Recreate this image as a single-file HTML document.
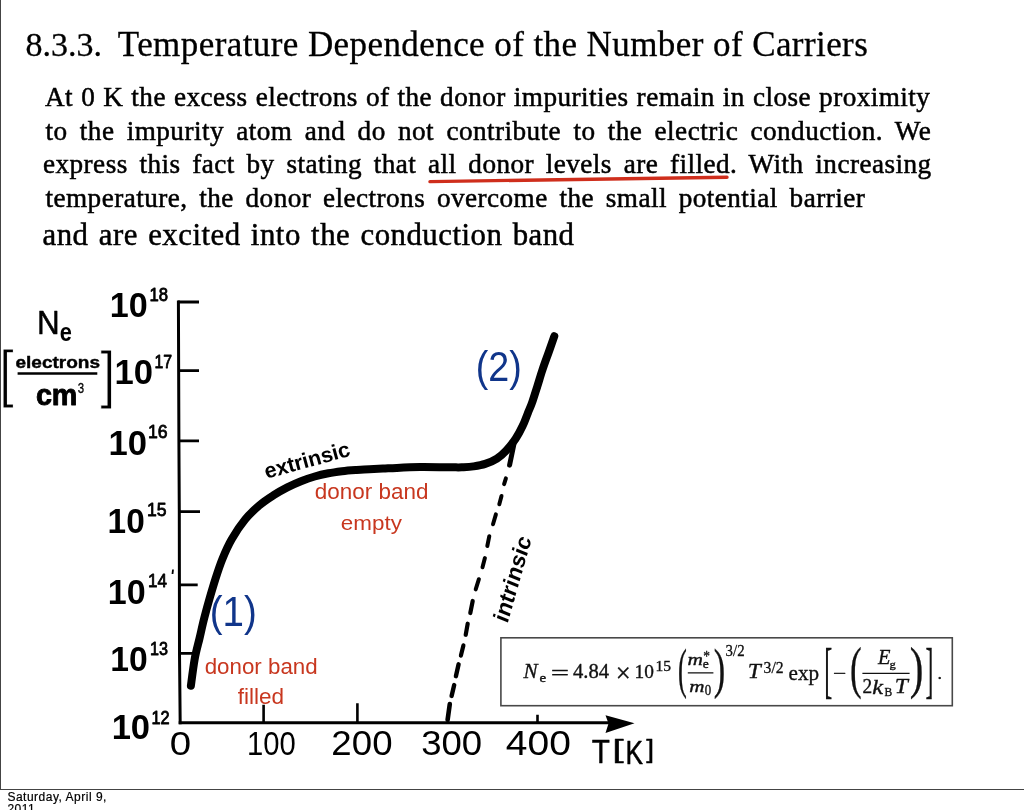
<!DOCTYPE html>
<html lang="en"><head><meta charset="utf-8"><title>8.3.3. Temperature Dependence of the Number of Carriers</title>
<style>
html,body{margin:0;padding:0;background:#fff;}
body{width:1024px;height:810px;position:relative;overflow:hidden;font-family:"Liberation Serif",serif;color:#000;}
.frame{position:absolute;left:0;top:0;width:1024px;height:789px;border-left:1px solid #444;border-bottom:1px solid #444;box-sizing:content-box;}
.g{position:absolute;left:0;top:0;}
.ln{position:absolute;white-space:pre;line-height:40px;height:40px;margin:0;-webkit-text-stroke:0.5px #000;}
h1.ln{font-weight:normal;}
.foot{position:absolute;left:7.4px;top:791.4px;font:12px/12px "Liberation Sans",sans-serif;width:115px;letter-spacing:0.5px;-webkit-text-stroke:0.2px #000;}
</style></head><body>
<div class="frame"></div>
<h1 class="ln" style="left:0;top:25px;font-size:34px;width:900px;-webkit-text-stroke:0.3px #000"><span style="position:absolute;left:25.4px;top:0">8.3.3.</span> <span style="position:absolute;left:117.8px;top:0;font-size:35px;letter-spacing:0.42px">Temperature Dependence of the Number of Carriers</span></h1>
<p class="ln" style="left:45px;top:76.6px;font-size:27.2px;letter-spacing:0.45px;word-spacing:0.8px">At 0 K the excess electrons of the donor impurities remain in close proximity</p>
<p class="ln" style="left:45.5px;top:110.5px;font-size:27.2px;letter-spacing:0.45px;word-spacing:5.05px">to the impurity atom and do not contribute to the electric conduction. We</p>
<p class="ln" style="left:43px;top:143.6px;font-size:27.2px;letter-spacing:0.45px;word-spacing:4.5px">express this fact by stating that all donor levels are filled. With increasing</p>
<p class="ln" style="left:45.5px;top:178px;font-size:27.2px;letter-spacing:0.45px;word-spacing:4.5px">temperature, the donor electrons overcome the small potential barrier</p>
<p class="ln" style="left:42.5px;top:214.6px;font-size:30.8px;letter-spacing:0.5px;word-spacing:2.1px">and are excited into the conduction band</p>
<svg class="g" width="1024" height="810" viewBox="0 0 1024 810">
<rect x="500.9" y="637.8" width="451.4" height="67.9" fill="none" stroke="#484848" stroke-width="1.6"/>
<g fill="none" stroke="#000" stroke-linecap="butt">
<path d="M178.4 300.6L178.9 440L179.3 512L179.5 654L180.2 724.2" stroke-width="3"/>
<path d="M178 302H199M178 370.6H199M178 440.9H199M179 511.7H200M179 584.9H197.7M180 653.4H196" stroke-width="2.8"/>
<path d="M178.7 722.8H610" stroke-width="3"/>
<path d="M263.6 704.8V722M357.4 703.2V722M537.5 714.8V722" stroke-width="2.6"/>
<path d="M173 569.5l-.5 4.5" stroke-width="1.8"/>
<path d="M190.9 685.7C191.5 681.3 193.2 667.5 194.6 659.5C196.0 651.5 198.0 644.9 199.6 638.0C201.2 631.1 202.5 624.8 204.2 618.2C205.9 611.6 207.7 605.0 209.6 598.4C211.5 591.8 213.4 585.3 215.5 578.7C217.6 572.1 219.7 565.5 222.4 558.9C225.1 552.3 227.9 545.8 231.7 539.2C235.5 532.6 240.5 525.1 245.1 519.5C249.7 513.9 254.7 509.4 259.5 505.3C264.3 501.2 269.1 498.2 273.7 495.2C278.3 492.2 282.8 489.7 287.3 487.4C291.9 485.1 296.4 483.0 301.0 481.2C305.6 479.4 310.1 477.8 314.7 476.5C319.3 475.2 323.8 474.2 328.4 473.3C332.9 472.4 337.4 471.8 342.0 471.2C346.6 470.6 351.1 470.3 355.7 470.0C360.3 469.7 364.8 469.4 369.4 469.2C373.9 469.0 378.4 468.8 383.0 468.6C387.6 468.4 390.5 468.1 396.7 467.9C402.9 467.6 411.1 467.2 420.0 467.1C428.9 467.0 443.1 467.3 450.0 467.3C456.9 467.3 457.8 467.5 461.7 467.3C465.6 467.1 469.5 467.0 473.4 466.4C477.3 465.8 481.3 465.2 485.2 463.9C489.1 462.6 493.4 460.9 496.9 458.6C500.4 456.4 503.2 453.7 506.3 450.4C509.4 447.1 512.9 442.8 515.6 438.7C518.3 434.6 520.7 430.1 522.7 425.8C524.8 421.5 526.3 416.9 527.9 412.9C529.5 408.9 530.8 406.4 532.3 402.0C533.8 397.6 535.5 392.0 537.2 386.7C538.9 381.4 540.5 375.6 542.4 370.0C544.2 364.4 546.3 358.9 548.3 353.3C550.3 347.7 553.3 339.1 554.3 336.2" stroke-width="8" stroke-linecap="round" stroke-linejoin="round"/>
<g stroke-linecap="round"><path d="M513.8 444.7L509.6 465.1" stroke-width="5"/><path d="M505.9 478.3L504.1 484.1" stroke-width="4"/><path d="M501.5 496.0L499.3 504.3" stroke-width="4"/><path d="M495.9 514.4L493.0 524.3" stroke-width="4"/><path d="M489.3 536.2L487.3 546.0" stroke-width="4"/><path d="M484.9 558.1L482.5 567.3" stroke-width="4"/><path d="M478.9 579.2L475.7 589.4" stroke-width="4"/><path d="M472.7 601.0L470.3 613.0" stroke-width="4.2"/><path d="M467.7 623.7L465.7 634.8" stroke-width="4.2"/><path d="M463.4 645.4L460.9 655.6" stroke-width="4.2"/><path d="M458.6 664.3L455.9 676.2" stroke-width="4.4"/><path d="M454.2 685.1L451.6 695.9" stroke-width="4.4"/><path d="M449.8 704.0L447.6 719.9" stroke-width="4.6"/></g>
<path d="M17.6 373.6H97.3" stroke-width="2.5"/>
<path d="M687.8 672.8H713.4M862.4 673.4H909.6" stroke="#111" stroke-width="1.2"/>
</g>
<path d="M634.5 723.3L605.5 715.2L608.5 723.4L605.5 733Z" fill="#000"/>
<path d="M430 181.6C500 180.6 600 180 727 177.2" fill="none" stroke="#cf2e1c" stroke-width="3.4" stroke-linecap="round"/>
<text transform="translate(109.65 317.25) scale(0.974 1)" font-family='"Liberation Sans", sans-serif' font-size="35.07" font-weight="bold" font-style="normal" fill="#000">10</text>
<text transform="translate(149.53 301.12) scale(0.941 1)" font-family='"Liberation Sans", sans-serif' font-size="17.75" font-weight="normal" font-style="normal" fill="#000" stroke="#000" stroke-width="0.8" stroke-linejoin="round">18</text>
<text transform="translate(114.52 383.74) scale(0.968 1)" font-family='"Liberation Sans", sans-serif' font-size="35.77" font-weight="bold" font-style="normal" fill="#000">10</text>
<text transform="translate(154.49 367.60) scale(0.895 1)" font-family='"Liberation Sans", sans-serif' font-size="17.71" font-weight="normal" font-style="normal" fill="#000" stroke="#000" stroke-width="0.8" stroke-linejoin="round">17</text>
<text transform="translate(108.62 455.14) scale(0.968 1)" font-family='"Liberation Sans", sans-serif' font-size="35.77" font-weight="bold" font-style="normal" fill="#000">10</text>
<text transform="translate(147.96 438.31) scale(0.944 1)" font-family='"Liberation Sans", sans-serif' font-size="18.73" font-weight="normal" font-style="normal" fill="#000" stroke="#000" stroke-width="0.8" stroke-linejoin="round">16</text>
<text transform="translate(107.60 533.14) scale(0.933 1)" font-family='"Liberation Sans", sans-serif' font-size="35.77" font-weight="bold" font-style="normal" fill="#000">10</text>
<text transform="translate(147.07 516.32) scale(0.955 1)" font-family='"Liberation Sans", sans-serif' font-size="18.43" font-weight="normal" font-style="normal" fill="#000" stroke="#000" stroke-width="0.8" stroke-linejoin="round">15</text>
<text transform="translate(107.76 603.64) scale(0.952 1)" font-family='"Liberation Sans", sans-serif' font-size="35.77" font-weight="bold" font-style="normal" fill="#000">10</text>
<text transform="translate(148.01 586.50) scale(0.924 1)" font-family='"Liberation Sans", sans-serif' font-size="18.43" font-weight="normal" font-style="normal" fill="#000" stroke="#000" stroke-width="0.8" stroke-linejoin="round">14</text>
<text transform="translate(110.18 670.66) scale(0.979 1)" font-family='"Liberation Sans", sans-serif' font-size="34.37" font-weight="bold" font-style="normal" fill="#000">10</text>
<text transform="translate(150.07 654.81) scale(0.858 1)" font-family='"Liberation Sans", sans-serif' font-size="18.87" font-weight="normal" font-style="normal" fill="#000" stroke="#000" stroke-width="0.8" stroke-linejoin="round">13</text>
<text transform="translate(111.63 739.25) scale(1.001 1)" font-family='"Liberation Sans", sans-serif' font-size="34.51" font-weight="bold" font-style="normal" fill="#000">10</text>
<text transform="translate(151.45 723.50) scale(0.924 1)" font-family='"Liberation Sans", sans-serif' font-size="17.71" font-weight="normal" font-style="normal" fill="#000" stroke="#000" stroke-width="0.8" stroke-linejoin="round">12</text>
<text transform="translate(37.04 334.35) scale(0.930 1)" font-family='"Liberation Sans", sans-serif' font-size="33.77" font-weight="normal" font-style="normal" fill="#000" stroke="#000" stroke-width="0.5" stroke-linejoin="round">N</text>
<text transform="translate(59.75 340.54) scale(0.850 1)" font-family='"Liberation Sans", sans-serif' font-size="25.64" font-weight="bold" font-style="normal" fill="#000">e</text>
<text transform="translate(15.43 367.53) scale(1.127 1)" font-family='"Liberation Sans", sans-serif' font-size="16.89" font-weight="bold" font-style="normal" fill="#000" stroke="#000" stroke-width="0.4" stroke-linejoin="round">electrons</text>
<text transform="translate(35.89 404.86) scale(0.982 1)" font-family='"Liberation Sans", sans-serif' font-size="29.27" font-weight="bold" font-style="normal" fill="#000" stroke="#000" stroke-width="0.9" stroke-linejoin="round">cm</text>
<text transform="translate(77.71 393.01) scale(0.796 1)" font-family='"Liberation Sans", sans-serif' font-size="14.37" font-weight="normal" font-style="normal" fill="#000" stroke="#000" stroke-width="0.3" stroke-linejoin="round">3</text>
<text transform="translate(-0.72 395.46) scale(0.842 1)" font-family='"Liberation Sans", sans-serif' font-size="62.34" font-weight="normal" font-style="normal" fill="#000" stroke="#fff" stroke-width="1.1" vector-effect="non-scaling-stroke">[</text>
<text transform="translate(100.25 395.81) scale(0.870 1)" font-family='"Liberation Sans", sans-serif' font-size="63.51" font-weight="normal" font-style="normal" fill="#000" stroke="#fff" stroke-width="1.1" vector-effect="non-scaling-stroke">]</text>
<text transform="translate(169.75 755.26) scale(1.126 1)" font-family='"Liberation Sans", sans-serif' font-size="34.08" font-weight="normal" font-style="normal" fill="#000">0</text>
<text transform="translate(246.95 755.26) scale(0.858 1)" font-family='"Liberation Sans", sans-serif' font-size="34.08" font-weight="normal" font-style="normal" fill="#000">100</text>
<text transform="translate(331.37 755.05) scale(1.058 1)" font-family='"Liberation Sans", sans-serif' font-size="34.65" font-weight="normal" font-style="normal" fill="#000">200</text>
<text transform="translate(421.20 755.05) scale(1.054 1)" font-family='"Liberation Sans", sans-serif' font-size="34.65" font-weight="normal" font-style="normal" fill="#000">300</text>
<text transform="translate(505.82 755.15) scale(1.108 1)" font-family='"Liberation Sans", sans-serif' font-size="35.21" font-weight="normal" font-style="normal" fill="#000">400</text>
<g><text transform="translate(591.66 762.71) scale(0.872 1)" font-family='"Liberation Sans", sans-serif' font-size="34.00" font-weight="normal" font-style="normal" fill="#000" stroke="#000" stroke-width="0.5" stroke-linejoin="round">T</text><text transform="translate(612.13 758.29) scale(1.637 1)" font-family='"Liberation Sans", sans-serif' font-size="25.05" font-weight="normal" font-style="normal" fill="#000" stroke="#000" stroke-width="0.4" stroke-linejoin="round">[</text><text transform="translate(625.45 763.50) scale(0.771 1)" font-family='"Liberation Sans", sans-serif' font-size="33.99" font-weight="normal" font-style="normal" fill="#000" stroke="#000" stroke-width="0.5" stroke-linejoin="round">K</text><text transform="translate(646.20 758.29) scale(1.121 1)" font-family='"Liberation Sans", sans-serif' font-size="25.05" font-weight="normal" font-style="normal" fill="#000" stroke="#000" stroke-width="0.4" stroke-linejoin="round">]</text></g>
<text transform="translate(475.74 380.82) scale(0.881 1)" font-family='"Liberation Sans", sans-serif' font-size="42.77" font-weight="normal" font-style="normal" fill="#10358a">(2)</text>
<text transform="translate(209.69 626.00) scale(0.898 1)" font-family='"Liberation Sans", sans-serif' font-size="42.87" font-weight="normal" font-style="normal" fill="#10358a">(1)</text>
<text transform="translate(314.80 498.68) scale(1.001 1)" font-family='"Liberation Sans", sans-serif' font-size="22.43" font-weight="normal" font-style="normal" fill="#c8371f">donor band</text>
<text transform="translate(340.80 529.90) scale(1.149 1)" font-family='"Liberation Sans", sans-serif' font-size="19.53" font-weight="normal" font-style="normal" fill="#c8371f">empty</text>
<text transform="translate(204.71 674.18) scale(1.008 1)" font-family='"Liberation Sans", sans-serif' font-size="22.16" font-weight="normal" font-style="normal" fill="#c8371f">donor band</text>
<text transform="translate(237.67 703.58) scale(1.006 1)" font-family='"Liberation Sans", sans-serif' font-size="22.43" font-weight="normal" font-style="normal" fill="#c8371f">filled</text>
<text transform="translate(523.39 678.32) scale(1.046 1)" font-family='"Liberation Serif", serif' font-size="20.23" font-weight="normal" font-style="italic" fill="#111" stroke="#111" stroke-width="0.35" stroke-linejoin="round">N</text>
<text transform="translate(539.53 681.90) scale(1.220 1)" font-family='"Liberation Serif", serif' font-size="12.19" font-weight="normal" font-style="normal" fill="#111" stroke="#111" stroke-width="0.35" stroke-linejoin="round">e</text>
<text transform="translate(550.87 680.00) scale(1.496 1)" font-family='"Liberation Serif", serif' font-size="21.80" font-weight="normal" font-style="normal" fill="#111" stroke="#111" stroke-width="0.35" stroke-linejoin="round">=</text>
<text transform="translate(572.97 678.33) scale(1.034 1)" font-family='"Liberation Serif", serif' font-size="19.93" font-weight="normal" font-style="normal" fill="#111" stroke="#111" stroke-width="0.35" stroke-linejoin="round">4.84</text>
<text transform="translate(615.82 681.51) scale(1.000 1)" font-family='"Liberation Serif", serif' font-size="26.55" font-weight="normal" font-style="normal" fill="#111" stroke="#111" stroke-width="0.35" stroke-linejoin="round">×</text>
<text transform="translate(634.62 678.13) scale(0.987 1)" font-family='"Liberation Serif", serif' font-size="19.63" font-weight="normal" font-style="normal" fill="#111" stroke="#111" stroke-width="0.35" stroke-linejoin="round">10</text>
<text transform="translate(655.43 670.95) scale(1.120 1)" font-family='"Liberation Serif", serif' font-size="13.90" font-weight="normal" font-style="normal" fill="#111" stroke="#111" stroke-width="0.35" stroke-linejoin="round">15</text>
<text transform="translate(678.12 687.09) scale(0.476 1)" font-family='"Liberation Serif", serif' font-size="55.60" font-weight="normal" font-style="normal" fill="#111" stroke="#111" stroke-width="0.35" stroke-linejoin="round">(</text>
<text transform="translate(687.53 664.66) scale(1.294 1)" font-family='"Liberation Serif", serif' font-size="16.56" font-weight="normal" font-style="italic" fill="#111" stroke="#111" stroke-width="0.35" stroke-linejoin="round">m</text>
<text transform="translate(702.77 667.71) scale(1.151 1)" font-family='"Liberation Serif", serif' font-size="11.77" font-weight="normal" font-style="normal" fill="#111" stroke="#111" stroke-width="0.35" stroke-linejoin="round">e</text>
<text transform="translate(703.14 660.60) scale(0.881 1)" font-family='"Liberation Serif", serif' font-size="15.27" font-weight="normal" font-style="normal" fill="#111" stroke="#111" stroke-width="0.35" stroke-linejoin="round">*</text>
<text transform="translate(689.24 691.66) scale(1.245 1)" font-family='"Liberation Serif", serif' font-size="16.98" font-weight="normal" font-style="italic" fill="#111" stroke="#111" stroke-width="0.35" stroke-linejoin="round">m</text>
<text transform="translate(704.79 694.75) scale(0.934 1)" font-family='"Liberation Serif", serif' font-size="13.75" font-weight="normal" font-style="normal" fill="#111" stroke="#111" stroke-width="0.35" stroke-linejoin="round">0</text>
<text transform="translate(713.74 687.09) scale(0.619 1)" font-family='"Liberation Serif", serif' font-size="55.60" font-weight="normal" font-style="normal" fill="#111" stroke="#111" stroke-width="0.35" stroke-linejoin="round">)</text>
<text transform="translate(725.58 656.37) scale(0.839 1)" font-family='"Liberation Serif", serif' font-size="17.72" font-weight="normal" font-style="normal" fill="#111" stroke="#111" stroke-width="0.35" stroke-linejoin="round">3/2</text>
<text transform="translate(747.77 678.32) scale(1.161 1)" font-family='"Liberation Serif", serif' font-size="20.23" font-weight="normal" font-style="italic" fill="#111" stroke="#111" stroke-width="0.35" stroke-linejoin="round">T</text>
<text transform="translate(763.55 673.27) scale(0.886 1)" font-family='"Liberation Serif", serif' font-size="17.72" font-weight="normal" font-style="normal" fill="#111" stroke="#111" stroke-width="0.35" stroke-linejoin="round">3/2</text>
<text transform="translate(788.54 679.87) scale(0.996 1)" font-family='"Liberation Serif", serif' font-size="21.23" font-weight="normal" font-style="normal" fill="#111" stroke="#111" stroke-width="0.35" stroke-linejoin="round">exp</text>
<text transform="translate(824.19 691.14) scale(0.393 1)" font-family='"Liberation Serif", serif' font-size="61.39" font-weight="normal" font-style="normal" fill="#111" stroke="#111" stroke-width="0.35" stroke-linejoin="round">[</text>
<text transform="translate(832.94 679.48) scale(1.339 1)" font-family='"Liberation Serif", serif' font-size="17.50" font-weight="normal" font-style="normal" fill="#111" stroke="#111" stroke-width="0.35" stroke-linejoin="round">−</text>
<text transform="translate(849.98 686.77) scale(0.623 1)" font-family='"Liberation Serif", serif' font-size="56.14" font-weight="normal" font-style="normal" fill="#111" stroke="#111" stroke-width="0.35" stroke-linejoin="round">(</text>
<text transform="translate(877.98 664.02) scale(1.009 1)" font-family='"Liberation Serif", serif' font-size="20.23" font-weight="normal" font-style="italic" fill="#111" stroke="#111" stroke-width="0.35" stroke-linejoin="round">E</text>
<text transform="translate(889.57 667.68) scale(1.125 1)" font-family='"Liberation Serif", serif' font-size="11.16" font-weight="normal" font-style="normal" fill="#111" stroke="#111" stroke-width="0.35" stroke-linejoin="round">g</text>
<text transform="translate(862.40 693.42) scale(0.966 1)" font-family='"Liberation Serif", serif' font-size="20.07" font-weight="normal" font-style="normal" fill="#111" stroke="#111" stroke-width="0.35" stroke-linejoin="round">2</text>
<text transform="translate(872.29 693.73) scale(1.148 1)" font-family='"Liberation Serif", serif' font-size="21.09" font-weight="normal" font-style="italic" fill="#111" stroke="#111" stroke-width="0.35" stroke-linejoin="round">k</text>
<text transform="translate(884.44 696.00) scale(0.916 1)" font-family='"Liberation Serif", serif' font-size="12.65" font-weight="normal" font-style="normal" fill="#111" stroke="#111" stroke-width="0.35" stroke-linejoin="round">B</text>
<text transform="translate(894.76 693.42) scale(1.161 1)" font-family='"Liberation Serif", serif' font-size="20.38" font-weight="normal" font-style="italic" fill="#111" stroke="#111" stroke-width="0.35" stroke-linejoin="round">T</text>
<text transform="translate(909.85 686.77) scale(0.730 1)" font-family='"Liberation Serif", serif' font-size="56.14" font-weight="normal" font-style="normal" fill="#111" stroke="#111" stroke-width="0.35" stroke-linejoin="round">)</text>
<text transform="translate(925.46 691.14) scale(0.386 1)" font-family='"Liberation Serif", serif' font-size="61.39" font-weight="normal" font-style="normal" fill="#111" stroke="#111" stroke-width="0.35" stroke-linejoin="round">]</text>
<text transform="translate(937.39 678.65) scale(1.058 1)" font-family='"Liberation Serif", serif' font-size="17.08" font-weight="normal" font-style="normal" fill="#111" stroke="#111" stroke-width="0.35" stroke-linejoin="round">.</text>
<text transform="translate(266.5 478.8) rotate(-15.3)" font-family='"Liberation Sans", sans-serif' font-size="21.5" font-weight="bold" textLength="88" lengthAdjust="spacing">extrinsic</text>
<text transform="translate(507.5 624) rotate(-74) skewX(-6)" font-family='"Liberation Sans", sans-serif' font-size="22.5" font-weight="bold" textLength="88" lengthAdjust="spacing">intrinsic</text>
</svg>
<div class="foot">Saturday, April 9, 2011</div>
</body></html>
